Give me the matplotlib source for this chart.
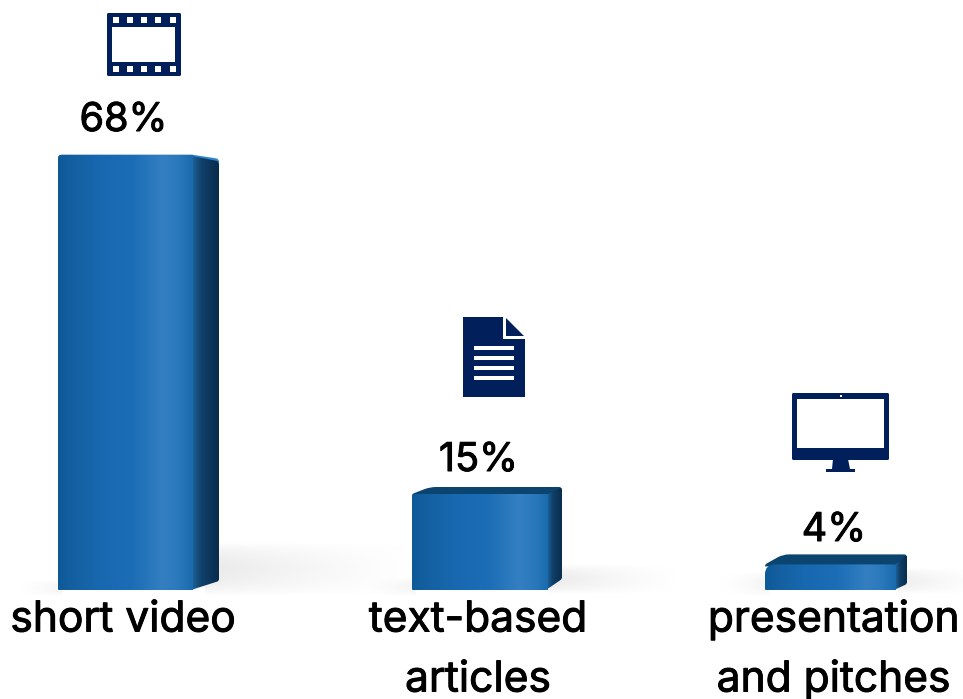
import numpy as np
import matplotlib
matplotlib.use("Agg")
import matplotlib.pyplot as plt
import matplotlib.patheffects as pe
from matplotlib.colors import LinearSegmentedColormap
from matplotlib.patches import FancyBboxPatch, PathPatch, Polygon, Rectangle
from matplotlib.path import Path

categories = ["short video", "text-based\narticles", "presentation\nand pitches"]
values = [68, 15, 4]
value_labels = ["68%", "15%", "4%"]

NAVY = "#001F5B"
FONT = ["Inter", "DejaVu Sans"]

# pixel scale of the picture: 353 px per category, 6.4 px per percent, floor at y=590
W, H = 963, 699
PX_X = 1 / 353
PX_Y = 1 / 6.4

front_cmap = LinearSegmentedColormap.from_list("front", [
    (0.00, "#0E5A98"), (0.10, "#145F9F"), (0.30, "#1868B0"), (0.55, "#1B6DB5"),
    (0.78, "#347FC2"), (0.90, "#2A78BC"), (1.00, "#1A6AAE")])
side_cmap = LinearSegmentedColormap.from_list("side", [
    (0.00, "#1C5F95"), (0.35, "#0F3F68"), (1.00, "#0A2C4C")])

# per-bar shape of the fake 3D box, in px
centre_shift = [0, 1.5, -1]
front_w = [135, 136, 131]
side_w = [26, 14, 11]
top_depth = [0, 7, 10]
side_top_drop = [5, 0, 0]
side_bottom_rise = [9, 11, 6]
corner = [4, 2, 10]

fig = plt.figure(figsize=(W / 100, H / 100), dpi=100)
ax = fig.add_axes([0, 0, 1, 1])
xlim = (-125.5 * PX_X, (W - 125.5) * PX_X)
ylim = (-(H - 590) * PX_Y, 590 * PX_Y)
ax.axis("off")

# overlay in picture pixels for the icons and labels
ov = fig.add_axes([0, 0, 1, 1], zorder=3)
ov.set_xlim(0, W)
ov.set_ylim(H, 0)
ov.axis("off")
ov.patch.set_alpha(0)


def rounded(points, radii):
    """Closed path through data-space points, corners rounded by radii given in px."""
    px = [np.array([x / PX_X, y / PX_Y]) for x, y in points]
    n = len(px)
    verts, codes = [], []
    for k in range(n):
        p, prev, nxt = px[k], px[k - 1], px[(k + 1) % n]
        r = radii[k]
        a = p + (prev - p) / max(np.linalg.norm(prev - p), 1e-6) * r
        b = p + (nxt - p) / max(np.linalg.norm(nxt - p), 1e-6) * r
        verts += [a, p, b]
        codes += [Path.MOVETO if k == 0 else Path.LINETO, Path.CURVE3, Path.CURVE3]
    verts.append(verts[0])
    codes.append(Path.CLOSEPOLY)
    return Path([(x * PX_X, y * PX_Y) for x, y in verts], codes)


def soft_shadow(x0, x1, y0, y1, strength, towards="right"):
    # grey fading sideways and towards the top and bottom edges
    xx = np.linspace(0, 1, 160)
    yy = np.linspace(0, 1, 50)
    fade = (1 - xx) ** 1.3 if towards == "right" else xx ** 1.5
    vert = np.sin(np.pi * yy) ** 0.8
    rgba = np.ones((50, 160, 4)) * 0.72
    rgba[..., 3] = strength * np.outer(vert, fade)
    ax.imshow(rgba, extent=[(x0 - 125.5) * PX_X, (x1 - 125.5) * PX_X,
                            (590 - y1) * PX_Y, (590 - y0) * PX_Y],
              aspect="auto", zorder=0, interpolation="bilinear")


soft_shadow(205, 420, 542, 596, 0.30)
soft_shadow(550, 680, 564, 594, 0.28)
soft_shadow(898, 985, 568, 594, 0.25)
soft_shadow(15, 62, 580, 596, 0.14, "left")
soft_shadow(365, 416, 578, 596, 0.16, "left")
soft_shadow(715, 769, 572, 596, 0.16, "left")

grad = np.linspace(0, 1, 256).reshape(1, -1)

for i, v in enumerate(values):
    w = front_w[i] * PX_X
    left = i + centre_shift[i] * PX_X - w / 2
    right = left + w
    d = side_w[i] * PX_X
    t = top_depth[i] * PX_Y

    # top face
    if top_depth[i]:
        top = rounded([(left, v), (left + 18 * PX_X, v + t), (right + d, v + t), (right + d, v - 2 * PX_Y), (right, v - 2 * PX_Y), (left, v - 2 * PX_Y)],
                      [2, 6, 3, 0, 0, 0])
        ax.add_patch(PathPatch(top, fc="#0B446F", ec="none", zorder=2))
    else:
        top = rounded([(left, v), (right, v), (right + d, v - 4 * PX_Y), (right + d, v - 8 * PX_Y), (left, v - 8 * PX_Y)],
                      [3, 3, 3, 0, 0])
        ax.add_patch(PathPatch(top, fc="#2C86CC", ec="none", zorder=2))

    # side face, starts a little behind the front so no seam shows
    side_top = v + t - side_top_drop[i] * PX_Y
    if not top_depth[i]:
        side_top -= 1.5 * PX_Y
    side_bot = side_bottom_rise[i] * PX_Y
    side = PathPatch(rounded([(right - 2 * PX_X, v - 1 * PX_Y), (right + d, side_top), (right + d, side_bot),
                              (right - 2 * PX_X, 0)], [0, 3, 2, 0]),
                     fc="none", ec="none", zorder=3)
    ax.add_patch(side)
    im = ax.imshow(grad, cmap=side_cmap, extent=[right, right + d, 0, v + t],
                   aspect="auto", zorder=3, interpolation="bilinear")
    im.set_clip_path(side)

    # front face, through the value scale
    r = corner[i]
    face = PathPatch(rounded([(left, 0), (left, v), (right, v), (right, 0)], [1, r, 0, 0]),
                     fc="none", ec="none", zorder=4)
    ax.add_patch(face)
    im = ax.imshow(grad, cmap=front_cmap, extent=[left, right, 0, v],
                   aspect="auto", zorder=4, interpolation="bilinear")
    im.set_clip_path(face)

ax.set_xlim(*xlim)
ax.set_ylim(*ylim)

# value labels
thick = [pe.withStroke(linewidth=0.7, foreground="black")]
label_y = [131, 471, 541]
label_x = [123.5, 478.5, 834]
for lx, ly, s in zip(label_x, label_y, value_labels):
    ov.text(lx, ly, s, ha="center", va="baseline", fontsize=28.5, color="#000000", family=FONT,
            path_effects=thick)

# category labels
cat_x = [123, 478, 833.5]
for cx, s in zip(cat_x, categories):
    for j, line in enumerate(s.split("\n")):
        ov.text(cx, 631.5 + 60 * j, line, ha="center", va="baseline", fontsize=30.6,
                color="#000000", family=FONT, path_effects=thick)


def box(x0, y0, x1, y1, color, r=0.0):
    if r:
        ov.add_patch(FancyBboxPatch((x0 + r, y0 + r), x1 - x0 - 2 * r, y1 - y0 - 2 * r,
                                    boxstyle=f"round,pad={r},rounding_size={r}",
                                    fc=color, ec="none"))
    else:
        ov.add_patch(Rectangle((x0, y0), x1 - x0, y1 - y0, fc=color, ec="none"))


# film icon
box(107, 13, 181, 76, NAVY, r=1.5)
box(112, 27, 175, 62, "white")
for hx in [115.5, 129.5, 144, 158, 172.5]:
    box(hx - 3, 17, hx + 3, 23, "white")
    box(hx - 3, 66, hx + 3, 72, "white")

# document icon
ov.add_patch(Polygon([(463, 317), (503, 317), (503, 339), (525, 339), (525, 397), (463, 397)],
                     closed=True, fc=NAVY, ec="none"))
ov.add_patch(Polygon([(506, 318), (524, 336), (506, 336)], closed=True, fc=NAVY, ec="none"))
for ly in [348, 358, 368, 378]:
    box(474, ly - 2, 514, ly + 2, "white")

# monitor icon
box(792, 393, 889, 460, NAVY, r=1.5)
box(797, 399, 884, 448, "white")
box(840, 395, 842, 397, "white")
ov.add_patch(Polygon([(833, 459), (848, 459), (850, 469), (832, 469)], closed=True, fc=NAVY, ec="none"))
box(826, 469, 855, 472, NAVY)

fig.savefig("out.png", dpi=100, facecolor="white")
